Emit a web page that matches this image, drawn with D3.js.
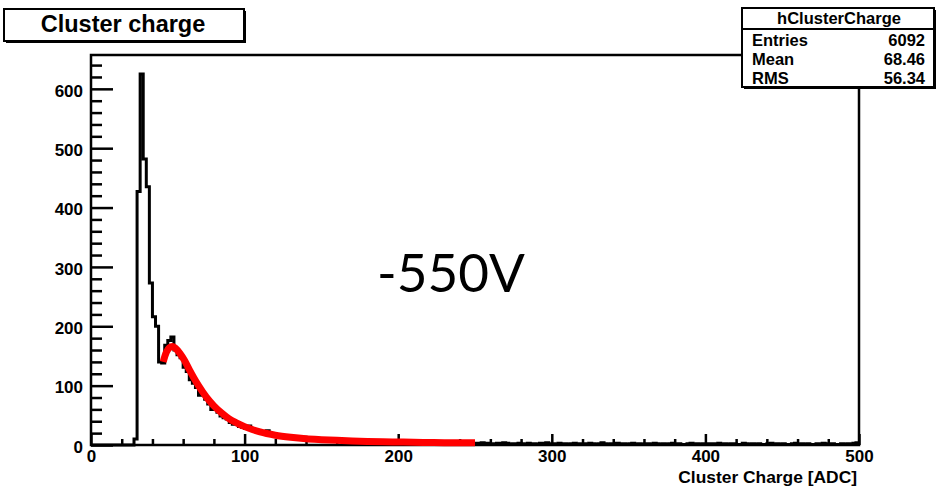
<!DOCTYPE html>
<html>
<head>
<meta charset="utf-8">
<script src="https://cdn.jsdelivr.net/npm/d3@7"></script>
<style>
  body { margin: 0; background: #fff; }
  svg { display: block; }
  .axis text { font-family: "Liberation Sans", Arial, sans-serif; font-weight: bold; font-size: 17px; fill: #000; }
  .axis line { stroke: #000; stroke-width: 2.5px; }
</style>
</head>
<body>
<div id="chart"></div>
<script>
// histogram: 250 bins of width 2 ADC from 0 to 500
const binWidth = 2;
const binCounts = [
    0, 0, 0, 0, 0, 0, 0, 0, 0, 0, 0, 0, 0, 0,
    10, 427, 625, 482, 435, 273, 216, 200, 140, 138,
    168, 176, 182, 160, 152, 147, 131, 124, 110, 104,
    97, 84, 86, 77, 69, 60, 62, 55, 49, 46,
    44, 38, 35, 37, 31, 30, 28, 32, 26, 23,
    24, 20, 21, 24, 18, 16, 17, 15, 14, 16,
    12, 13, 11, 12, 10, 13, 9, 11, 10, 8,
    9, 10, 7, 9, 8, 7, 8, 6, 7, 9,
    6, 7, 5, 6, 7, 5, 6, 4, 6, 5,
    5, 4, 6, 5, 4, 5, 4, 5, 3, 4,
    6, 4, 5, 3, 4, 3, 5, 3, 4, 3,
    4, 3, 4, 2, 5, 3, 3, 2, 4, 3, 2,
    3, 2, 4, 2, 3, 1, 2, 3, 2, 4, 3, 1, 2, 2, 3, 2, 1, 3, 2, 2, 1, 3, 2, 4, 2,
    2, 1, 3, 2, 2, 1, 2, 3, 1, 2, 2, 1, 3, 2, 1, 2, 4, 2, 1, 2, 2, 3, 1, 2, 1,
    2, 3, 1, 2, 1, 2, 2, 1, 3, 2, 1, 2, 1, 2, 3, 1, 2, 1, 1, 2, 3, 1, 2, 1, 2,
    1, 2, 2, 1, 3, 1, 2, 1, 2, 2, 1, 1, 3, 2, 1, 2, 1, 2, 1, 1, 2, 3, 1, 2, 1,
    2, 1, 1, 2, 3, 1, 2, 1, 2, 1, 1, 2, 1, 3, 2, 1, 2, 1, 1, 2, 1, 2, 1, 3, 4
];

// fitted curve
const fitX = [47, 49, 51, 53, 55, 58, 61, 64, 67, 70, 75, 80, 85, 90, 95, 100, 105, 110,
              120, 130, 140, 150, 160, 170, 180, 190, 200, 210, 220, 230, 240, 250];
const fitY = [140, 156, 164, 166, 163, 154, 142, 127, 113, 100, 81, 66, 54, 44, 37, 31, 26, 22,
              16.5, 13, 10.5, 9, 7.8, 6.8, 6, 5.4, 5, 4.6, 4.3, 4, 3.8, 3.6];

const xMajor = [0, 100, 200, 300, 400, 500];
const yMajor = [0, 100, 200, 300, 400, 500, 600];

const statsName = "hClusterCharge";
const statsRows = [["Entries", "6092"], ["Mean", "68.46"], ["RMS", "56.34"]];
const titleText = "Cluster charge";
const xTitle = "Cluster Charge [ADC]";
const noteText = "-550V";

const width = 937, height = 487;
const frame = { left: 91, right: 859, top: 55, bottom: 445 };
const font = "'Liberation Sans', Arial, sans-serif";

const svg = d3.select("#chart").append("svg")
    .attr("width", width)
    .attr("height", height);

svg.append("rect").attr("width", width).attr("height", height).attr("fill", "#fff");

// scales
const x = d3.scaleLinear().domain([0, 500]).range([frame.left, frame.right]);
const y = d3.scaleLinear().domain([0, 657]).range([frame.bottom, frame.top]);

// minor ticks every 20
const xMinor = d3.range(0, 501, 20).filter(d => d % 100 !== 0);
const yMinor = d3.range(0, 657, 20).filter(d => d % 100 !== 0);

// y axis (ticks point into the frame)
const yAxis = svg.append("g").attr("class", "axis")
    .attr("transform", "translate(" + frame.left + ",0)")
    .call(d3.axisLeft(y).tickValues(yMajor).tickSize(-22).tickSizeOuter(0).tickPadding(8));
yAxis.selectAll("text").attr("dy", "0.43em");
yAxis.select(".domain").remove();

svg.append("g").attr("class", "axis")
    .attr("transform", "translate(" + frame.left + ",0)")
    .call(d3.axisLeft(y).tickValues(yMinor).tickSize(-11).tickFormat(""))
    .select(".domain").remove();

// x axis
const xAxis = svg.append("g").attr("class", "axis")
    .attr("transform", "translate(0," + frame.bottom + ")")
    .call(d3.axisBottom(x).tickValues(xMajor).tickSize(-11).tickSizeOuter(0).tickPadding(5));
xAxis.select(".domain").remove();

svg.append("g").attr("class", "axis")
    .attr("transform", "translate(0," + frame.bottom + ")")
    .call(d3.axisBottom(x).tickValues(xMinor).tickSize(-6).tickFormat(""))
    .select(".domain").remove();

// frame
svg.append("rect")
    .attr("x", frame.left).attr("y", frame.top)
    .attr("width", frame.right - frame.left)
    .attr("height", frame.bottom - frame.top)
    .attr("fill", "none").attr("stroke", "#000").attr("stroke-width", 2.5);

// histogram outline
const histData = binCounts.map((c, i) => ({ lo: i * binWidth, v: c }));
histData.push({ lo: binCounts.length * binWidth, v: binCounts[binCounts.length - 1] });

const histLine = d3.line()
    .x(d => x(d.lo))
    .y(d => y(d.v))
    .curve(d3.curveStepAfter);

svg.append("path")
    .datum(histData)
    .attr("d", histLine)
    .attr("fill", "none")
    .attr("stroke", "#000")
    .attr("stroke-width", 3);

// fit
const fitLine = d3.line()
    .x(d => x(d[0]))
    .y(d => y(d[1]))
    .curve(d3.curveMonotoneX);

svg.append("path")
    .datum(fitX.map((d, i) => [d, fitY[i]]))
    .attr("d", fitLine)
    .attr("fill", "none")
    .attr("stroke", "#ff0000")
    .attr("stroke-width", 7);

// axis title
svg.append("text")
    .attr("x", 857).attr("y", 482.5)
    .attr("text-anchor", "end")
    .style("font-family", font)
    .style("font-weight", "bold")
    .style("font-size", "17.4px")
    .text(xTitle);

// voltage note
svg.append("text")
    .attr("x", 377).attr("y", 292)
    .style("font-family", "Lato, 'Open Sans', sans-serif")
    .style("font-size", "53px")
    .text(noteText);

// title box with shadow
svg.append("rect").attr("x", 6).attr("y", 11).attr("width", 240).attr("height", 32).attr("fill", "#000");
svg.append("rect").attr("x", 4).attr("y", 9).attr("width", 240).attr("height", 32)
    .attr("fill", "#fff").attr("stroke", "#000").attr("stroke-width", 2);
svg.append("text")
    .attr("x", 123).attr("y", 32)
    .attr("text-anchor", "middle")
    .style("font-family", font)
    .style("font-weight", "bold")
    .style("font-size", "23.5px")
    .text(titleText);

// stats box
const stats = svg.append("g");
stats.append("rect").attr("x", 744).attr("y", 10).attr("width", 192).attr("height", 79).attr("fill", "#000");
stats.append("rect").attr("x", 742).attr("y", 8).attr("width", 192).attr("height", 79)
    .attr("fill", "#fff").attr("stroke", "#000").attr("stroke-width", 2);
stats.append("line").attr("x1", 742).attr("x2", 934).attr("y1", 29).attr("y2", 29)
    .attr("stroke", "#000").attr("stroke-width", 2);
stats.append("text")
    .attr("x", 839).attr("y", 24)
    .attr("text-anchor", "middle")
    .style("font-family", font)
    .style("font-weight", "bold")
    .style("font-size", "16.5px")
    .text(statsName);

statsRows.forEach(function(r, i) {
    const yy = 46 + i * 19;
    stats.append("text")
        .attr("x", 752).attr("y", yy)
        .style("font-family", font)
        .style("font-weight", "bold")
        .style("font-size", "16.5px")
        .text(r[0]);
    stats.append("text")
        .attr("x", 925).attr("y", yy)
        .attr("text-anchor", "end")
        .style("font-family", font)
        .style("font-weight", "bold")
        .style("font-size", "16.5px")
        .text(r[1]);
});
</script>
</body>
</html>
